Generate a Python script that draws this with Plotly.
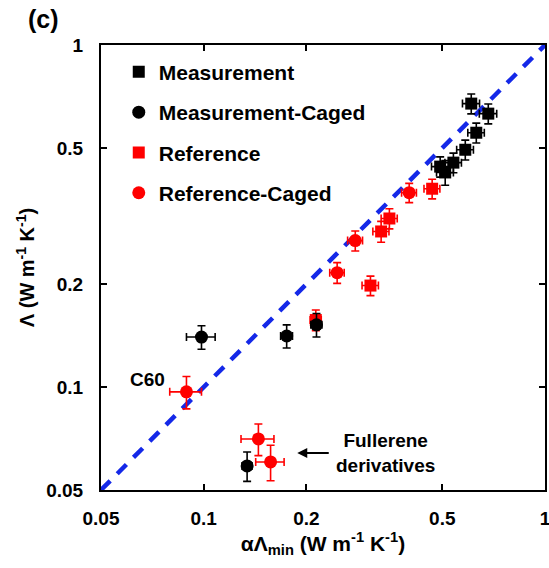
import plotly.graph_objects as go

# Measurement (black squares)
meas_x = [0.608, 0.682, 0.629, 0.584, 0.539, 0.493, 0.510]
meas_y = [0.674, 0.630, 0.554, 0.494, 0.453, 0.441, 0.424]
meas_ex = [0.035, 0.040, 0.035, 0.033, 0.030, 0.028, 0.029]
meas_ey = [0.045, 0.042, 0.037, 0.033, 0.030, 0.030, 0.035]

# Measurement-Caged (black circles)
mcag_x = [0.0985, 0.175, 0.214, 0.134]
mcag_y = [0.140, 0.141, 0.152, 0.0588]
mcag_ex = [0.0095, 0.007, 0.008, 0.0045]
mcag_ey = [0.011, 0.011, 0.012, 0.0058]

# Reference (red squares)
ref_x = [0.467, 0.350, 0.331, 0.308, 0.213]
ref_y = [0.380, 0.311, 0.285, 0.198, 0.157]
ref_ex = [0.025, 0.019, 0.018, 0.017, 0.008]
ref_ey = [0.025, 0.021, 0.020, 0.013, 0.011]

# Reference-Caged (red circles)
rcag_x = [0.400, 0.278, 0.246, 0.089, 0.1446, 0.157]
rcag_y = [0.370, 0.268, 0.216, 0.0968, 0.0705, 0.0604]
rcag_ex = [0.020, 0.014, 0.012, 0.0095, 0.016, 0.015]
rcag_ey = [0.024, 0.018, 0.015, 0.0105, 0.0075, 0.0072]

# y = x guide line
line_xy = [0.05, 1.0]

tick_vals = [0.05, 0.1, 0.2, 0.5, 1]
tick_text = ["0.05", "0.1", "0.2", "0.5", "1"]

FONT = "Liberation Sans"
BLACK = "#000000"
RED = "#ff0000"
BLUE = "#1428e8"

fig = go.Figure()

fig.add_trace(go.Scatter(x=line_xy, y=line_xy, mode="lines",
                         line=dict(color=BLUE, width=4.5, dash="13px,10px"),
                         showlegend=False, hoverinfo="skip"))


def add_series(xs, ys, exs, eys, color, symbol, size, name, rank):
    fig.add_trace(go.Scatter(
        x=xs, y=ys, mode="markers", name=name, legendgroup=name, legendrank=rank,
        marker=dict(color=color, symbol=symbol, size=size, line=dict(width=0)),
        error_x=dict(type="data", array=exs, color=color, thickness=1.6, width=4),
        error_y=dict(type="data", array=eys, color=color, thickness=1.6, width=4),
    ))


add_series(ref_x, ref_y, ref_ex, ref_ey, RED, "square", 12, "Reference", 3)
add_series(rcag_x, rcag_y, rcag_ex, rcag_ey, RED, "circle", 13, "Reference-Caged", 4)
add_series(meas_x, meas_y, meas_ex, meas_ey, BLACK, "square", 12, "Measurement", 1)
add_series(mcag_x, mcag_y, mcag_ex, mcag_ey, BLACK, "circle", 13, "Measurement-Caged", 2)

axis_common = dict(
    type="log", showgrid=False, zeroline=False, automargin=False,
    showline=True, linecolor=BLACK, linewidth=2, mirror="ticks",
    ticks="inside", ticklen=6, tickwidth=1.5, tickcolor=BLACK,
    tickvals=tick_vals, ticktext=tick_text, ticklabeloverflow="allow",
    tickfont=dict(family=FONT, size=19, color=BLACK, weight="bold"),
)

fig.update_layout(
    width=549, height=568,
    margin=dict(l=101, r=4, t=45, b=78),
    paper_bgcolor="white", plot_bgcolor="white",
    font=dict(family=FONT, color=BLACK),
    xaxis=dict(range=[-1.30103, 0], ticklabelstandoff=10,
               title=dict(text="αΛ<sub>min</sub> (W m<sup>-1</sup> K<sup>-1</sup>)",
                          font=dict(family=FONT, size=21, weight="bold"), standoff=6),
               **axis_common),
    yaxis=dict(range=[-1.30103, 0], ticklabelstandoff=12,
               title=dict(text="Λ (W m<sup>-1</sup> K<sup>-1</sup>)",
                          font=dict(family=FONT, size=20, weight="bold"), standoff=6),
               **axis_common),
    legend=dict(x=0.04, y=0.985, xanchor="left", yanchor="top",
                bgcolor="rgba(0,0,0,0)", tracegroupgap=10,
                font=dict(family=FONT, size=21, color=BLACK, weight="bold")),
    showlegend=True,
)

fig.add_annotation(xref="paper", yref="paper", x=-0.17, y=1.095, text="<b>(c)</b>",
                   xanchor="left", yanchor="top", showarrow=False,
                   font=dict(family=FONT, size=25, color=BLACK))

fig.add_annotation(x=-1.165, y=-0.979, xref="x", yref="y", text="<b>C60</b>",
                   showarrow=False, font=dict(family=FONT, size=19, color=BLACK))
fig.add_annotation(x=-0.468, y=-1.193, xref="x", yref="y",
                   text="<b>Fullerene<br>derivatives</b>", showarrow=False,
                   font=dict(family=FONT, size=19, color=BLACK))
fig.add_annotation(x=-0.726, y=-1.193, xref="x", yref="y", text="",
                   showarrow=True, arrowhead=2, arrowsize=1, arrowwidth=2,
                   arrowcolor=BLACK, ax=33, ay=0)

fig.write_html("out.html")
